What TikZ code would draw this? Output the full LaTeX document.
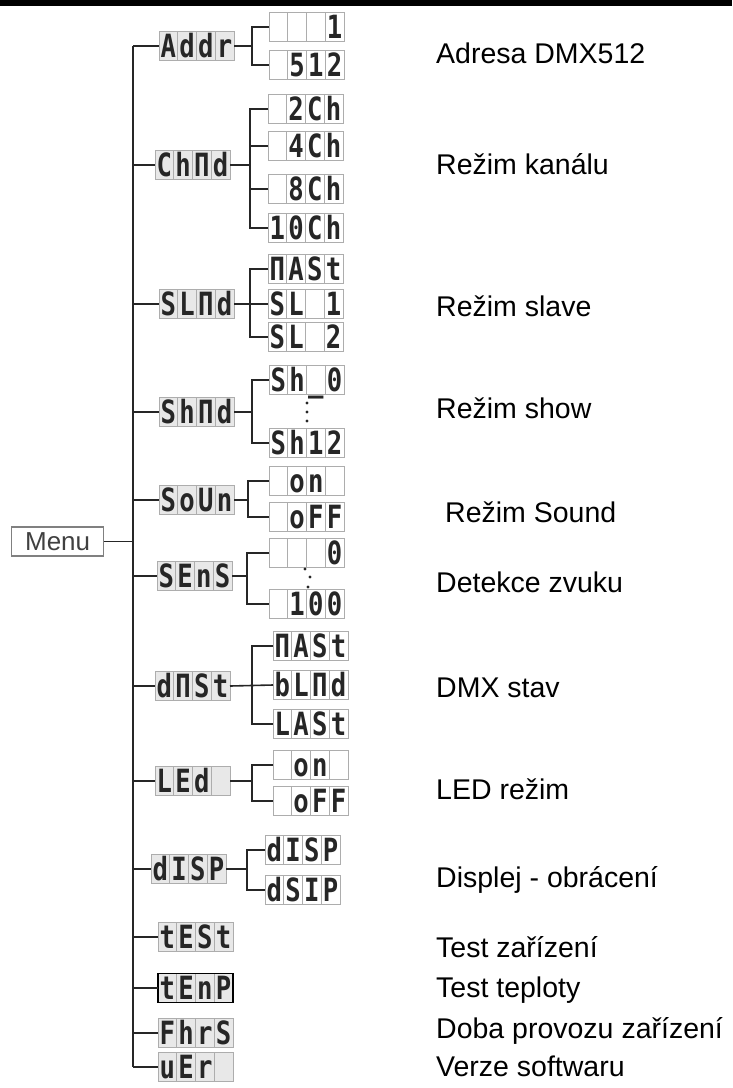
\documentclass[tikz,border=0pt]{standalone}
\usepackage{fontspec}
\usepackage{graphicx}
\setmainfont{Liberation Sans}
\newfontfamily\lcdfam{DejaVu Sans Mono}
\newcommand{\lcdfont}{\lcdfam\bfseries\fontsize{32}{32}\selectfont}
\newcommand{\lblfont}{\fontsize{28.5}{30}\selectfont}
\newcommand{\lch}[1]{\scalebox{0.8}[1]{#1}}
\newcommand{\lcd}[8][]{%
  \node[lcdframe,anchor=west,#1] (#2) at (#3,-#4) {};
  \draw[cellline] (#2.south west) rectangle (#2.north east);
  \foreach \k in {1,2,3} {\draw[cellline] ([xshift=\k*18.75pt]#2.south west) -- ([xshift=\k*18.75pt]#2.north west);}
  \node[lc] at ([xshift=9.375pt,yshift=3pt]#2.south west) {\lch{#5}};
  \node[lc] at ([xshift=28.125pt,yshift=3pt]#2.south west) {\lch{#6}};
  \node[lc] at ([xshift=46.875pt,yshift=3pt]#2.south west) {\lch{#7}};
  \node[lc] at ([xshift=65.625pt,yshift=3pt]#2.south west) {\lch{#8}};
}
\begin{document}
\begin{tikzpicture}[x=1pt,y=1pt,
  conn/.style={draw=black!85,line width=1.6pt},
  lcdframe/.style={minimum width=75pt,minimum height=29pt,inner sep=0pt,outer sep=0pt},
  cellline/.style={draw=black!32,line width=0.9pt},
  lc/.style={anchor=base,inner sep=0pt,text=black!85,font=\lcdfont},
  lvl/.style={fill=black!9},
  lbl/.style={anchor=base west,inner sep=0pt,font=\lblfont,text=black},
]
\useasboundingbox (0,0) rectangle (732,-1088);
\fill[black] (0,0) rectangle (732,-6);

% Menu
\node[draw=black!50,line width=1.3pt,minimum width=92pt,minimum height=29pt,inner sep=0pt,anchor=west,
      font=\fontsize{26}{26}\selectfont,text=black!75] (menu) at (11,-541.5) {Menu};

% level 1
\lcd[lvl]{addr}{159}{46}{A}{d}{d}{r}
\lcd[lvl]{chnd}{155}{165}{C}{h}{Π}{d}
\lcd[lvl]{slnd}{159}{304}{S}{L}{Π}{d}
\lcd[lvl]{shnd}{159}{412}{S}{h}{Π}{d}
\lcd[lvl]{soun}{159}{500}{S}{o}{U}{n}
\lcd[lvl]{sens}{157}{576}{S}{E}{n}{S}
\lcd[lvl]{dnst}{155}{686}{d}{Π}{S}{t}
\lcd[lvl]{led}{155}{781}{L}{E}{d}{}
\lcd[lvl]{disp}{151}{869}{d}{I}{S}{P}
\lcd[lvl]{test}{158}{937}{t}{E}{S}{t}
\lcd[lvl]{tenp}{158}{988}{t}{E}{n}{P}
\draw[black,line width=1.4pt] (tenp.south west) rectangle (tenp.north east);
\lcd[lvl]{fhrs}{158}{1033}{F}{h}{r}{S}
\lcd[lvl]{uer}{158}{1067}{u}{E}{r}{}

% level 2
\lcd{a1}{269}{27}{}{}{}{1}
\lcd{a2}{269}{65}{}{5}{1}{2}
\lcd{c2}{268}{109}{}{2}{C}{h}
\lcd{c4}{268}{146}{}{4}{C}{h}
\lcd{c8}{268}{189}{}{8}{C}{h}
\lcd{c10}{268}{228}{1}{0}{C}{h}
\lcd{s1}{268}{269}{Π}{A}{S}{t}
\lcd{s2}{268}{304}{S}{L}{}{1}
\lcd{s3}{268}{337}{S}{L}{}{2}
\lcd{h0}{269}{380}{S}{h}{\_}{0}
\lcd{h12}{269}{443}{S}{h}{1}{2}
\lcd{o1}{269}{481}{}{o}{n}{}
\lcd{o2}{269}{517}{}{o}{F}{F}
\lcd{e0}{269}{553}{}{}{}{0}
\lcd{e100}{269}{604}{}{1}{0}{0}
\lcd{d1}{273}{646}{Π}{A}{S}{t}
\lcd{d2}{273}{685}{b}{L}{Π}{d}
\lcd{d3}{273}{724}{L}{A}{S}{t}
\lcd{le1}{273}{765}{}{o}{n}{}
\lcd{le2}{273}{801}{}{o}{F}{F}
\lcd{p1}{265}{850}{d}{I}{S}{P}
\lcd{p2}{265}{890}{d}{S}{I}{P}

% trunk
\coordinate (trunk) at (133,0);
\draw[conn] (addr.west -| trunk) -- (uer.west -| trunk);
\draw[conn] (menu.east) -- (menu.east -| trunk);
\foreach \n in {addr,chnd,slnd,shnd,soun,sens,dnst,led,disp,test,tenp,fhrs,uer}
  {\draw[conn] (\n.west -| trunk) -- (\n.west);}

% brackets
\coordinate (bA) at (252,0);
\draw[conn] (addr.east) -- (addr.east -| bA);
\draw[conn] (a1.west) -| (bA |- a2.west) -- (a2.west);

\coordinate (bC) at (250,0);
\draw[conn] (chnd.east) -- (chnd.east -| bC);
\draw[conn] (c2.west) -| (bC |- c10.west) -- (c10.west);
\draw[conn] (c4.west) -- (c4.west -| bC);
\draw[conn] (c8.west) -- (c8.west -| bC);

\coordinate (bS) at (250,0);
\draw[conn] (slnd.east) -- (s2.west);
\draw[conn] (s1.west) -| (bS |- s3.west) -- (s3.west);

\coordinate (bH) at (252,0);
\draw[conn] (shnd.east) -- (shnd.east -| bH);
\draw[conn] (h0.west) -| (bH |- h12.west) -- (h12.west);

\coordinate (bO) at (248,0);
\draw[conn] (soun.east) -- (soun.east -| bO);
\draw[conn] (o1.west) -| (bO |- o2.west) -- (o2.west);

\coordinate (bE) at (247,0);
\draw[conn] (sens.east) -- (sens.east -| bE);
\draw[conn] (e0.west) -| (bE |- e100.west) -- (e100.west);

\coordinate (bD) at (252,0);
\draw[conn] (dnst.east) -- (d2.west);
\draw[conn] (d1.west) -| (bD |- d3.west) -- (d3.west);

\coordinate (bL) at (252,0);
\draw[conn] (led.east) -- (led.east -| bL);
\draw[conn] (le1.west) -| (bL |- le2.west) -- (le2.west);

\coordinate (bP) at (247,0);
\draw[conn] (disp.east) -- (disp.east -| bP);
\draw[conn] (p1.west) -| (bP |- p2.west) -- (p2.west);

% dots
\fill[black!85] (307,-403) circle (1.7) (307,-412) circle (1.7) (307,-421) circle (1.7);
\fill[black!85] (305,-569) circle (1.7) (310,-577) circle (1.7) (308,-587) circle (1.7);

% labels
\node[lbl] (l1) at (436,-63) {Adresa DMX512};
\node[lbl] (l2) at (436,-174) {Režim kanálu};
\node[lbl] (l3) at (436,-316) {Režim slave};
\node[lbl] (l4) at (436,-418) {Režim show};
\node[lbl] (l5) at (445,-522) {Režim Sound};
\node[lbl] (l6) at (436,-592) {Detekce zvuku};
\node[lbl] (l7) at (436,-697) {DMX stav};
\node[lbl] (l8) at (436,-799) {LED režim};
\node[lbl] (l9) at (436,-887) {Displej - obrácení};
\node[lbl] (l10) at (436,-957) {Test zařízení};
\node[lbl] (l11) at (436,-997) {Test teploty};
\node[lbl] (l12) at (436,-1038) {Doba provozu zařízení};
\node[lbl] (l13) at (436,-1076) {Verze softwaru};
\end{tikzpicture}
\end{document}
